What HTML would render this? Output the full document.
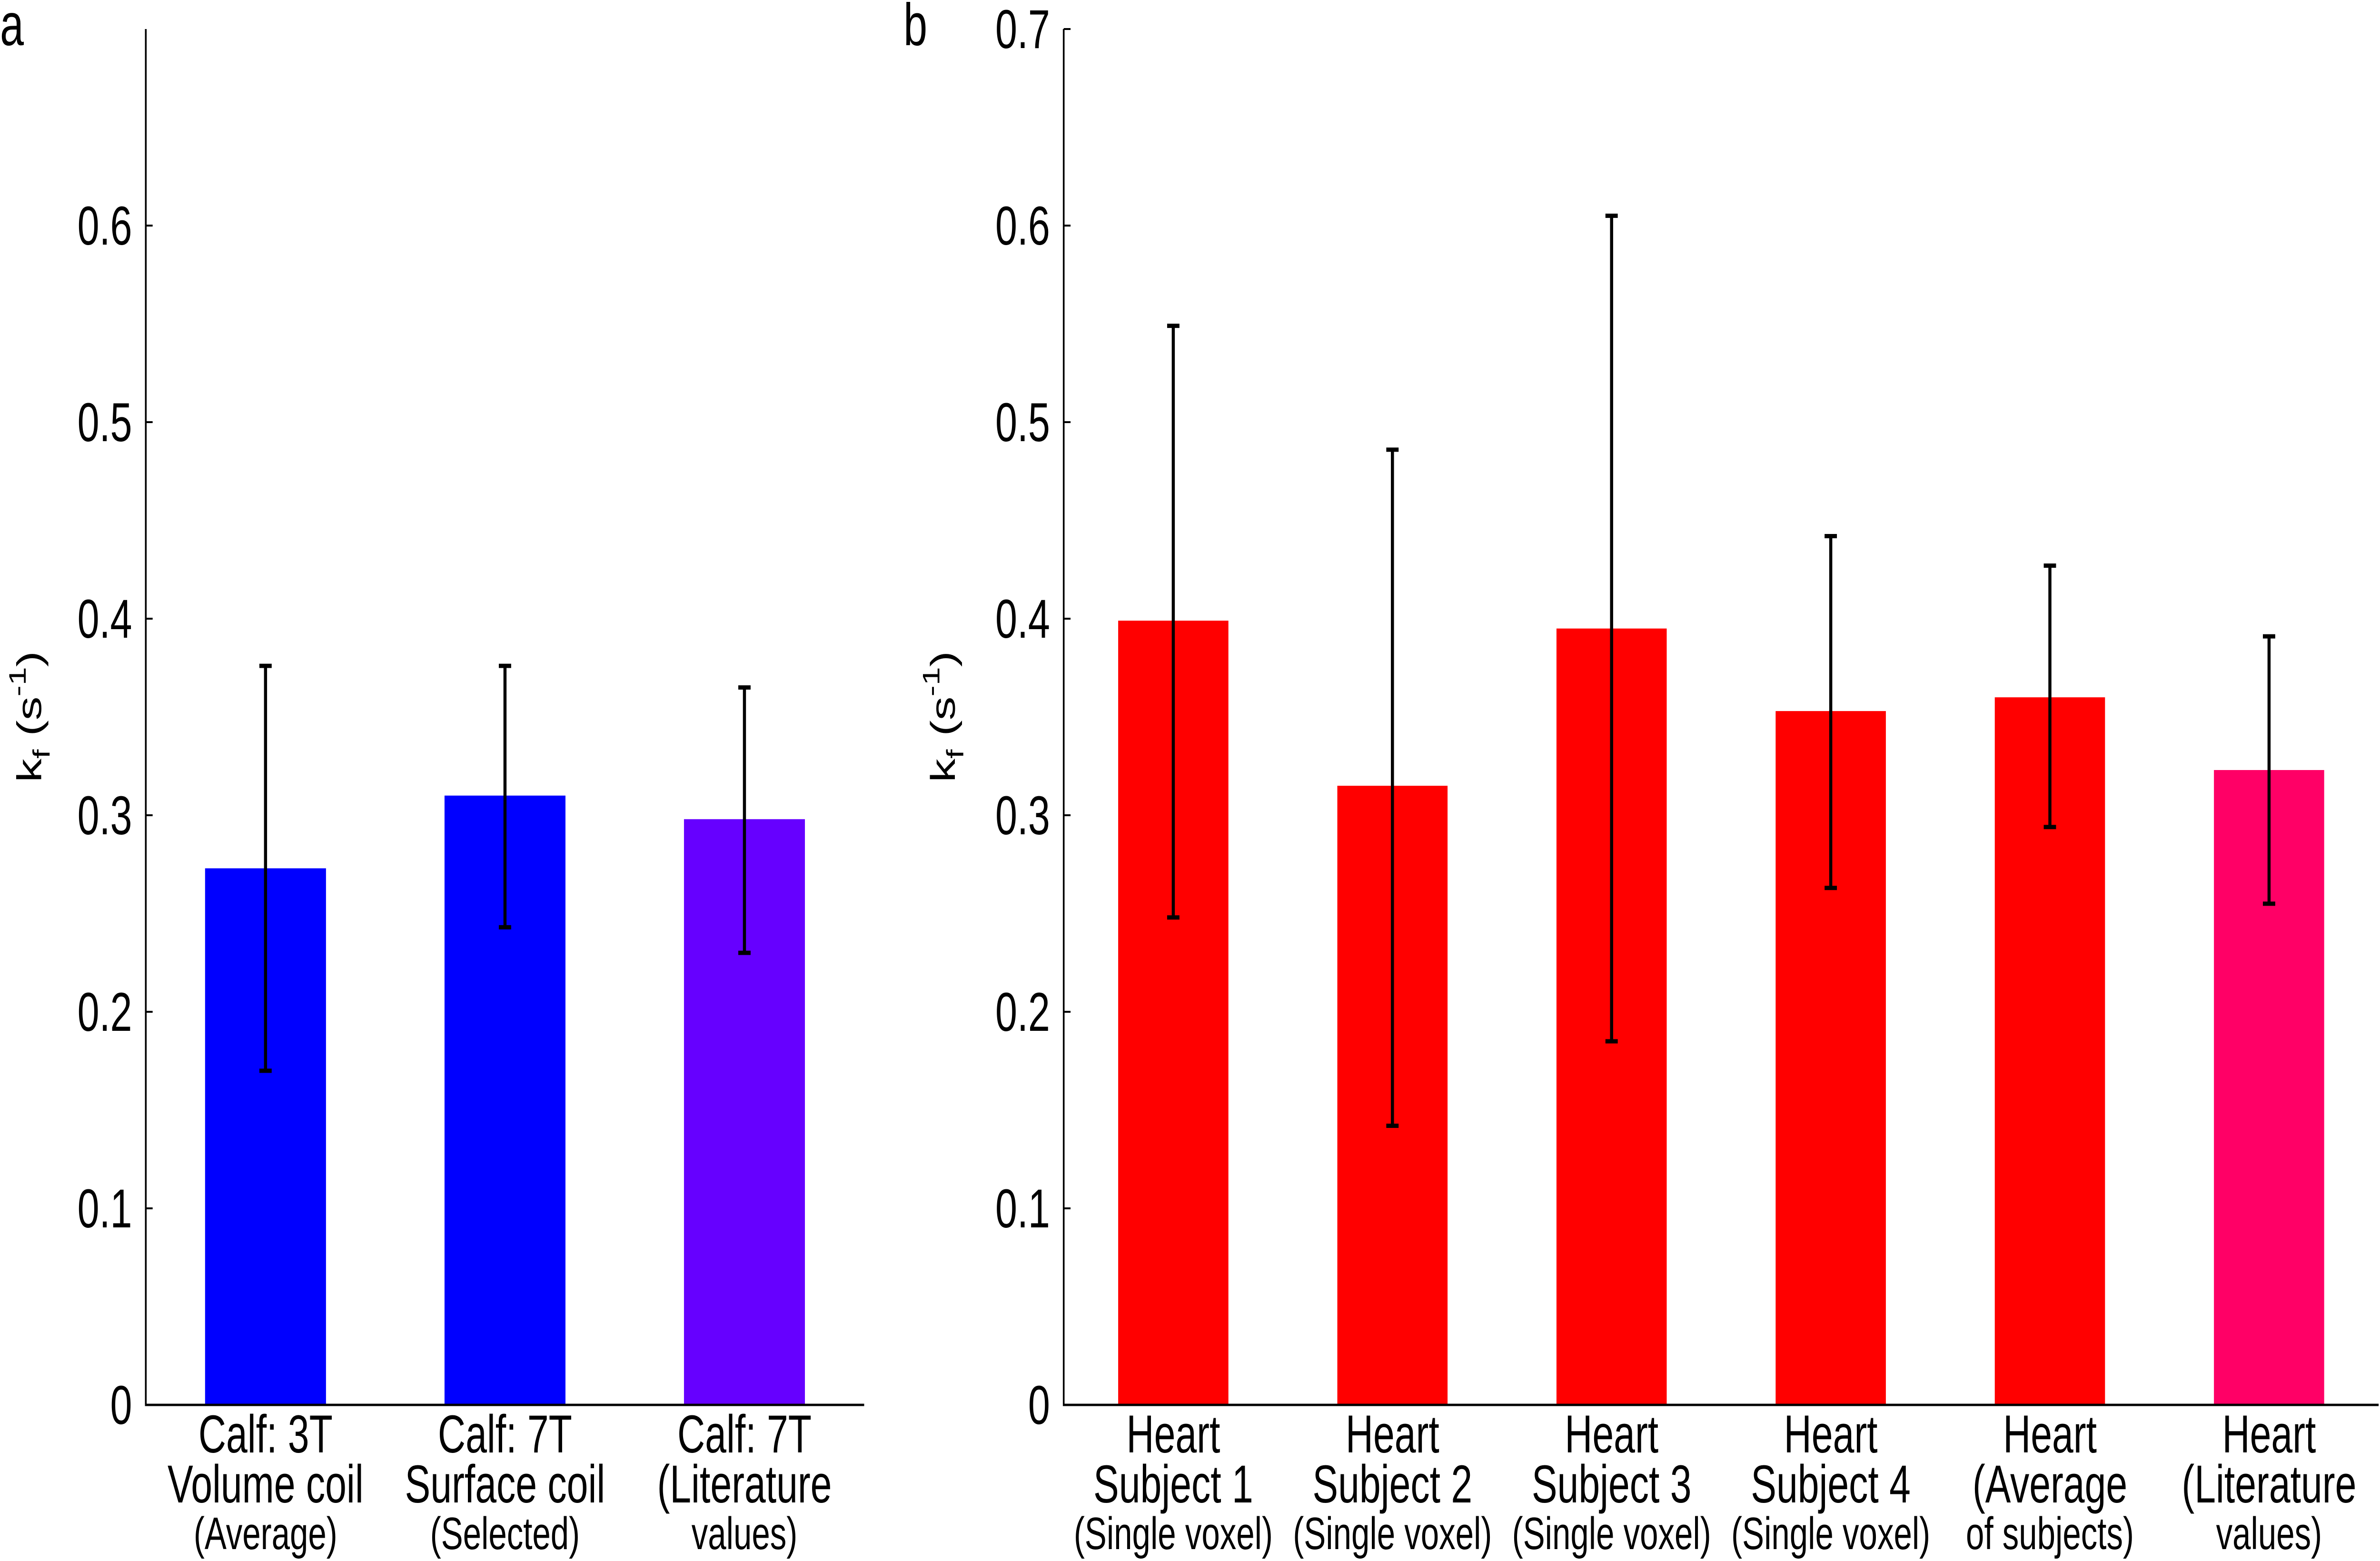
<!DOCTYPE html>
<html><head><meta charset="utf-8"><style>
html,body{margin:0;padding:0;background:#fff;width:100%;height:100%;overflow:hidden;}
svg{display:block;font-family:"Liberation Sans",sans-serif;width:100vw;height:100vh;}
</style></head><body>
<svg id="chart" viewBox="0 0 6954 3280" preserveAspectRatio="none" xmlns="http://www.w3.org/2000/svg">
<text x="0" y="95" font-size="125">a</text>
<text x="2640" y="95" font-size="125">b</text>
<g id="pa"></g>
<g id="pb"></g>
</svg>
<script>
const catsA = [["Calf: 3T","Volume coil","(Average)"],["Calf: 7T","Surface coil","(Selected)"],["Calf: 7T","(Literature","values)"]];
const valsA = [0.273, 0.310, 0.298];
const hiA = [0.376, 0.376, 0.365];
const loA = [0.170, 0.243, 0.230];
const colA = ["#0000ff","#0000ff","#6600ff"];
const ticksA = ["0","0.1","0.2","0.3","0.4","0.5","0.6"];

const catsB = [["Heart","Subject 1","(Single voxel)"],["Heart","Subject 2","(Single voxel)"],["Heart","Subject 3","(Single voxel)"],["Heart","Subject 4","(Single voxel)"],["Heart","(Average","of subjects)"],["Heart","(Literature","values)"]];
const valsB = [0.399, 0.315, 0.395, 0.353, 0.360, 0.323];
const hiB = [0.549, 0.486, 0.605, 0.442, 0.427, 0.391];
const loB = [0.248, 0.142, 0.185, 0.263, 0.294, 0.255];
const colB = ["#ff0000","#ff0000","#ff0000","#ff0000","#ff0000","#ff0066"];
const ticksB = ["0","0.1","0.2","0.3","0.4","0.5","0.6","0.7"];

const NS="http://www.w3.org/2000/svg";
function mk(parent,tag,attrs,txt){const e=document.createElementNS(NS,tag);for(const k in attrs)e.setAttribute(k,attrs[k]);if(txt!==undefined)e.textContent=txt;parent.appendChild(e);return e;}

function panel(g,cfg){
  const y0=2952, unit=4130;
  const Y=v=>y0-v*unit;
  const X0=cfg.x0, X1=cfg.x1;
  const n=cfg.cats.length, step=(X1-X0)/n;
  const XC=i=>X0+step*(i+0.5);
  const bw=step*cfg.bwFrac;
  for(let i=0;i<n;i++){
    const r=mk(g,'rect',{x:XC(i)-bw/2,y:Y(cfg.vals[i]),width:bw,height:Y(0)-Y(cfg.vals[i]),fill:cfg.cols[i]});
    
    
  }
  for(let i=0;i<n;i++){
    const eg=mk(g,'g',{stroke:'#000','stroke-width':9});
    
    
    const c=XC(i);
    mk(eg,'line',{x1:c,x2:c,y1:Y(cfg.hi[i]),y2:Y(cfg.lo[i])});
    mk(eg,'line',{x1:c-18,x2:c+18,y1:Y(cfg.hi[i]),y2:Y(cfg.hi[i])});
    mk(eg,'line',{x1:c-18,x2:c+18,y1:Y(cfg.lo[i]),y2:Y(cfg.lo[i])});
  }
  const ax=mk(g,'path',{d:`M${X0},${Y(0.7)} L${X0},${y0} L${X1},${y0}`,fill:'none',stroke:'#000','stroke-width':5});
  
  
  cfg.ticks.forEach((t)=>{
    const v=parseFloat(t), y=Y(v);
    mk(g,'line',{x1:X0,x2:X0+20,y1:y,y2:y,stroke:'#000','stroke-width':4});
    const tl=mk(g,'text',{x:X0-40,y:y+40,'font-size':115,'text-anchor':'end'},t);
    
    
  });
  for(let i=0;i<n;i++){
    const tg=mk(g,'text',{'text-anchor':'middle'});
    
    
    mk(tg,'tspan',{x:XC(i),y:3052,'font-size':112},cfg.cats[i][0]);
    mk(tg,'tspan',{x:XC(i),y:3157,'font-size':112},cfg.cats[i][1]);
    mk(tg,'tspan',{x:XC(i),y:3255,'font-size':96},cfg.cats[i][2]);
  }
  const yt=mk(g,'text',{transform:`translate(${cfg.tx},1506) rotate(-90)`,'text-anchor':'middle','font-size':100});
  
  
  mk(yt,'tspan',{},'k');
  mk(yt,'tspan',{'font-size':70,dy:25},'f');
  mk(yt,'tspan',{dy:-25},' (s');
  mk(yt,'tspan',{'font-size':70,dy:-45},'-1');
  mk(yt,'tspan',{dy:45},')');
}
panel(document.getElementById('pa'),{x0:426,x1:2525,cats:catsA,vals:valsA,hi:hiA,lo:loA,cols:colA,ticks:ticksA,bwFrac:0.505,tx:120});
panel(document.getElementById('pb'),{x0:3108,x1:6950,cats:catsB,vals:valsB,hi:hiB,lo:loB,cols:colB,ticks:ticksB,bwFrac:0.503,tx:2790});
</script>
</body></html>
